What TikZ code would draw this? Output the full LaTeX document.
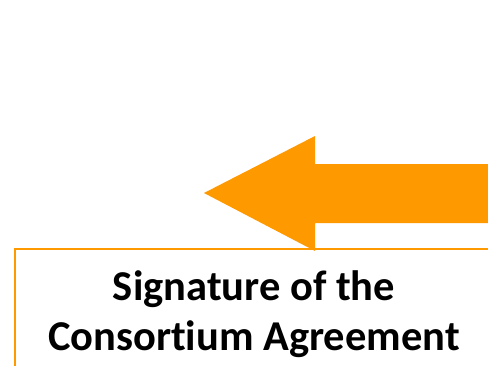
\documentclass[tikz,border=0pt]{standalone}
\usepackage{fontspec}
\setmainfont[Ligatures=NoCommon]{Carlito}
\usepackage{xcolor}
\definecolor{arroworange}{RGB}{255,153,0}

\begin{document}
\begin{tikzpicture}[
    x=1pt,
    y=-1pt,
    stepbox/.style={
        rectangle,
        draw=arroworange,
        line width=1.5pt,
        minimum width=478pt,
        minimum height=130pt,
        inner sep=0pt
    },
    caption/.style={
        font=\fontsize{42.5}{50}\selectfont\bfseries,
        align=center,
        inner sep=0pt
    }
]
    \useasboundingbox (0,0) rectangle (488,365);
    \clip (0,0) rectangle (488,365);

    % Box and text
    \node [stepbox, anchor=north west] (box) at (14,248) {};
    \node [caption] (title) at (254,314) {Signature of the\\Consortium Agreement};

    % Big arrow
    \fill [arroworange] (204,193) -- (315,136) -- (315,164) -- (490,164)
        -- (490,223) -- (315,223) -- (315,251) -- cycle;
\end{tikzpicture}
\end{document}
